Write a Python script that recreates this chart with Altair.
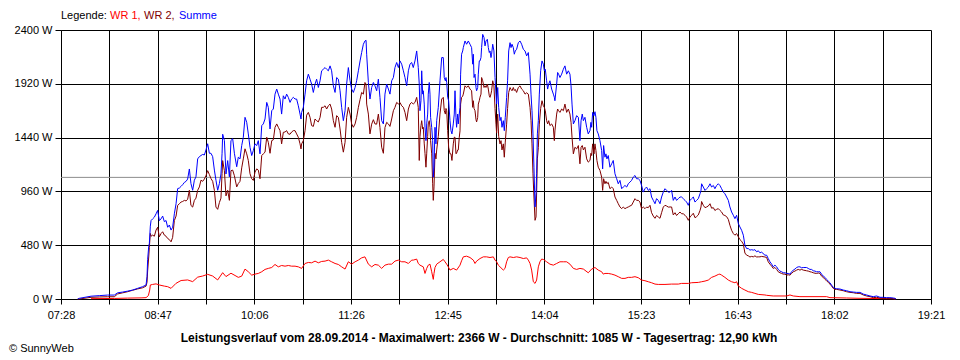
import json
import altair as alt
import pandas as pd

# ---- data (time = minutes after midnight, power in W) ----
t_main = [461.7, 463.0, 472.6, 479.4, 486.2, 491.7, 494.4, 498.5, 502.6, 506.7, 510.8, 514.9, 517.7, 518.5, 519.0, 519.9,
          520.4, 521.2, 521.8, 523.1, 524.5, 525.9, 527.2, 528.6, 530.0, 531.3, 532.7, 534.1, 535.4, 536.8, 538.2, 539.5,
          540.9, 542.3, 543.6, 545.0, 546.4, 547.7, 549.1, 550.5, 551.8, 553.2, 554.5, 555.9, 557.3, 558.6, 560.0, 561.4,
          562.7, 564.1, 565.5, 566.8, 568.2, 569.6, 570.9, 572.3, 573.7, 575.0, 576.4, 577.8, 579.1, 580.0, 580.5, 581.9,
          583.2, 584.6, 586.0, 587.3, 588.7, 590.1,
          592.0, 593.3, 594.7, 596.1, 597.4, 598.8, 600.2, 601.5, 602.9, 604.3, 605.6, 607.0, 608.4, 609.7, 611.1, 612.5,
          613.8, 615.2, 616.6, 617.9, 619.3, 620.7, 622.0, 623.4, 624.8, 626.1, 627.5, 628.8, 630.2, 631.6, 632.9, 634.3,
          635.7, 637.0, 638.4, 639.8, 641.1, 642.5, 643.9, 644.7, 645.2, 646.6, 648.0, 649.3, 650.7, 652.1, 653.4, 654.8,
          656.2, 657.5, 658.9, 660.3, 661.6, 663.0, 664.4, 665.7, 667.1, 668.5, 669.8, 671.2, 672.6, 673.9, 675.3, 676.7,
          678.0, 679.4, 680.8, 682.1, 683.5, 684.9, 686.2, 687.6, 689.0, 690.3, 691.7, 693.1, 694.4, 695.8, 697.1, 698.0,
          698.5, 699.9, 701.2, 702.6, 704.0, 705.3, 706.7, 708.1, 709.4, 710.8, 712.2, 713.5, 714.9, 716.3, 717.6, 719.0,
          720.4, 721.7, 723.1, 724.5, 725.8, 727.2, 728.6, 729.9, 731.3, 732.7, 734.0, 735.4,
          736.7, 738.1, 739.5, 740.8, 741.6, 742.2, 743.0, 743.6, 744.4, 744.9, 745.7, 746.3, 747.1, 747.7, 748.5, 749.0,
          749.8, 750.4, 750.9, 751.8, 752.6, 753.1, 753.7, 754.5, 755.3, 755.9, 757.2, 758.6, 760.0, 761.3, 762.1, 763.0,
          763.5, 764.1, 764.9, 765.7, 766.8, 767.6, 768.4, 769.5, 770.3, 770.9, 771.7, 772.2, 773.1, 773.6, 774.4, 775.0,
          775.5, 776.3, 777.2, 777.7, 779.1, 780.4, 781.8, 783.2, 784.5, 785.4, 785.9, 786.5, 787.3, 788.1, 788.6, 789.5,
          790.0, 790.8, 791.4, 792.2, 792.7, 793.6, 794.7, 795.5, 796.3, 797.4, 798.2, 799.0, 799.6, 800.4, 800.9, 801.8,
          802.8, 803.7, 804.5, 805.0, 805.9, 806.7, 807.8, 808.6, 809.4, 810.5, 811.3, 812.1, 813.2, 814.0, 814.9, 816.0,
          816.8, 817.6, 818.7, 819.5, 820.3, 821.4, 822.8, 824.2, 825.5, 826.9, 828.3, 829.6, 831.0, 832.4, 833.2, 834.0,
          834.8, 835.6, 836.5, 837.3, 837.8, 838.4, 839.2, 840.0, 841.1, 842.2, 843.3, 844.1, 844.9, 846.0, 846.8, 847.7,
          848.7, 850.1, 851.5, 852.3, 852.8, 854.2, 855.0, 855.8, 856.9, 858.3, 859.7, 861.0, 862.4, 863.8, 865.1, 866.0,
          866.8, 867.9, 869.2, 870.6, 872.0, 873.3, 874.2, 875.2, 876.1, 877.4,
          878.8, 880.1, 881.5, 882.3, 882.9, 883.7, 884.8, 885.6, 886.4, 887.2, 888.3, 889.7, 891.1, 891.9, 892.7, 893.8,
          894.6, 895.4, 896.5, 897.9, 899.3, 900.6, 902.0, 903.4, 904.7, 906.1, 907.5, 908.8, 910.2, 911.6, 912.9, 914.3,
          915.6, 917.0, 918.4, 919.7, 921.1, 922.5, 923.8, 925.2, 926.6, 927.9, 929.3, 930.7, 932.0, 933.4, 934.8, 936.1,
          937.5, 938.9, 940.2, 941.6, 943.0, 944.3, 945.7, 947.1, 948.4, 949.8, 951.2, 952.5, 953.9, 955.3, 956.6, 958.0,
          959.4, 960.7, 962.1, 963.5, 964.8, 966.2, 967.6, 968.9, 970.3, 971.7, 972.5, 973.0, 974.4, 975.8, 977.1, 978.5,
          979.9, 981.2, 982.6, 983.9, 985.3, 986.7, 988.0, 989.4, 990.8, 992.1, 993.5, 994.9, 996.2, 997.6, 999.0, 1000.3,
          1001.7, 1003.1, 1004.4, 1005.8, 1007.2, 1008.5, 1009.9, 1011.3, 1012.6, 1014.0, 1015.4, 1016.7, 1018.1, 1019.5,
          1020.8, 1022.2,
          1024.9, 1026.3, 1027.6, 1029.0, 1030.4, 1031.7, 1033.1, 1034.5, 1035.8, 1037.2, 1038.6, 1039.9, 1041.3, 1042.7,
          1044.0, 1045.4, 1046.8, 1048.1, 1049.5, 1050.9, 1052.2, 1053.6, 1055.0, 1056.3, 1059.0, 1060.4, 1061.8, 1063.1,
          1064.5, 1065.9, 1067.2, 1068.6, 1070.0, 1071.3, 1072.7, 1074.1, 1075.4, 1076.8, 1078.2, 1079.5, 1080.9, 1082.3,
          1083.6, 1086.4, 1089.1, 1091.8, 1094.6, 1097.3, 1100.0, 1102.8, 1105.5, 1108.2, 1111.0, 1113.7, 1116.4, 1119.2,
          1121.9, 1124.6, 1127.3, 1130.1, 1131.4, 1132.3]

summe = [0, 6, 25, 30, 35, 35, 55, 62, 70, 80, 95, 110, 125, 200, 350, 470,
         495, 650, 700, 715, 730, 760, 790, 700, 715, 740, 690, 700, 640, 660, 615, 640,
         760, 850, 985, 990, 1005, 1020, 1040, 1050, 1070, 1160, 1030, 970, 1060, 1090, 1250, 1270,
         1280, 1290, 1285, 1330, 1385, 1300, 1300, 1270, 1150, 1060, 970, 1030, 1115, 1300, 1470, 1415,
         1115, 1235, 1090, 1415, 1430, 1300,
         1180, 1265, 1250, 1369, 1443, 1621, 1576, 1473, 1354, 1280, 1324, 1384, 1369, 1413, 1295, 1547,
         1562, 1606, 1754, 1710, 1517, 1680, 1695, 1828, 1873, 1828, 1784, 1650, 1813, 1784, 1828, 1799,
         1754, 1784, 1799, 1784, 1784, 1724, 1650, 1606, 1665, 1710, 1828, 1947, 2006, 1961, 1917, 1843,
         1917, 1961, 1887, 1947, 2036, 2050, 2065, 2050, 2036, 2080, 2036, 1902, 1843, 1976, 1961, 1858,
         1710, 1591, 1680, 1917, 2065, 1947, 1873, 1843, 1887, 1947, 2036, 2124, 2199, 2273, 2302, 2308,
         2184, 1932, 1784, 1887, 1932, 1902, 1858, 1961, 1799, 1591, 1562, 1828, 1917, 1873, 1828, 1947,
         1976, 2065, 2110, 2065, 2124, 2095, 2036, 1976, 1902, 2036, 2095, 2110,
         2065, 2124, 2213, 2065, 1917, 1680, 1769, 2036, 1828, 1858, 1739, 1532, 1413, 1562, 1650, 1828,
         1932, 1828, 1621, 1532, 1413, 1087, 1176, 1532, 1384, 1591, 1710, 1947, 2154, 2154, 1976, 1947,
         1976, 1932, 1799, 1769, 1591, 1502, 1473, 1562, 1650, 1858, 1621, 1532, 1650, 1562, 1650, 1710,
         2006, 2184, 2213, 2243, 2302, 2273, 2302, 2273, 2243, 2095, 2184, 1976, 2006, 1887, 1858, 1887,
         2006, 2124, 2124, 2154, 2243, 2361, 2332, 2258, 2302, 2317, 2243, 2199, 2213, 2154, 2184, 2273,
         2213, 1976, 1828, 1739, 1887, 1710, 1591, 1621, 1532, 1591, 1502, 1621, 1799, 1947, 2213, 2287,
         2243, 2273, 2243, 2184, 2213, 2228, 2287, 2302, 2273, 2228, 2213, 2169, 2199, 2006, 1828, 1680,
         1473, 1176, 821, 939, 1117, 1473, 1591, 1828, 2036, 2124, 2095, 2036, 2050, 1947, 1873, 1917,
         1947, 1873, 1828, 1800, 1769, 1917, 2021, 2006, 1976, 2006, 2050, 2080, 2006, 2036, 2006, 1902,
         1739, 1562, 1591, 1636, 1621, 1413, 1591, 1650, 1591, 1621,
         1532, 1473, 1502, 1576, 1532, 1665, 1636, 1671, 1621, 1502, 1473, 1413, 1324, 1161, 1369, 1265,
         1295, 1250, 1280, 1176, 1206, 1236, 1117, 1073, 1028, 1058, 984, 999, 1013, 999, 1028, 1043,
         1058, 1087, 1102, 1073, 1073, 1058, 1013, 954, 984, 999, 969, 984, 910, 880, 850, 895,
         880, 850, 910, 954, 984, 969, 954, 954, 969, 880, 910, 880, 895, 910, 910, 895,
         880, 865, 836, 880, 895, 910, 865, 880, 895, 939, 969, 1028, 999, 969, 984, 999,
         1028, 999, 1013, 984, 1013, 1028, 1013, 984, 954, 939, 910, 880, 821, 776, 747, 717,
         747, 673, 643, 613, 569, 480, 450, 450, 436, 440, 436, 440, 421, 430,
         412, 418,
         391, 391, 361, 332, 311, 287, 302, 287, 264, 249, 243, 234, 234, 228,
         228, 222, 243, 258, 267, 281, 287, 287, 278, 281, 281, 273, 264, 264,
         252, 249, 243, 243, 243, 222, 204, 193, 175, 160, 145, 124, 104, 95,
         92, 89, 80, 74, 65, 62, 59, 59, 44, 36, 27, 21, 27, 15,
         15, 12, 12, 9, 6, 0]

wr2 = [0, 0, 15, 18, 20, 20, 45, 55, 65, 78, 90, 100, 115, 150, 250, 375,
       460, 585, 560, 570, 560, 615, 640, 555, 584, 600, 570, 560, 540, 530, 510, 550,
       700, 740, 835, 850, 865, 870, 880, 875, 890, 970, 835, 820, 880, 900, 970, 1000,
       1060, 1050, 1070, 1100, 1145, 1110, 1075, 1050, 970, 820, 800, 860, 900, 1120, 1235, 1145,
       920, 970, 880, 1145, 1150, 1100,
       1000, 1030, 1050, 1170, 1250, 1340, 1295, 1236, 1117, 1073, 1058, 1132, 1161, 1150, 1073, 1280,
       1295, 1310, 1443, 1398, 1300, 1413, 1420, 1532, 1562, 1532, 1502, 1384, 1487, 1490, 1502, 1473,
       1470, 1490, 1502, 1502, 1473, 1443, 1384, 1339, 1384, 1413, 1502, 1640, 1665, 1621, 1547, 1540,
       1606, 1591, 1580, 1620, 1710, 1710, 1724, 1695, 1724, 1739, 1695, 1591, 1532, 1636, 1621, 1517,
       1398, 1310, 1398, 1621, 1710, 1650, 1562, 1532, 1562, 1621, 1710, 1780, 1843, 1828, 1932, 1917,
       1739, 1650, 1473, 1560, 1600, 1562, 1560, 1650, 1530, 1354, 1300, 1530, 1576, 1562, 1540, 1606,
       1680, 1710, 1754, 1740, 1754, 1724, 1710, 1665, 1591, 1695, 1739, 1754,
       1739, 1754, 1799, 1710, 1236, 1450, 1547, 1591, 1517, 1532, 1384, 1300, 1176, 1295, 1450, 1562,
       1591, 1532, 1413, 1295, 1028, 880, 1000, 1300, 1250, 1330, 1450, 1650, 1784, 1799, 1680, 1650,
       1700, 1680, 1502, 1354, 1295, 1295, 1236, 1384, 1443, 1443, 1295, 1300, 1330, 1330, 1443, 1500,
       1739, 1799, 1810, 1828, 1902, 1887, 1902, 1873, 1858, 1710, 1769, 1700, 1680, 1600, 1580, 1620,
       1739, 1769, 1800, 1828, 1976, 1947, 1887, 1902, 1887, 1917, 1873, 1813, 1799, 1830, 1858, 1947,
       1902, 1700, 1560, 1480, 1650, 1450, 1384, 1413, 1330, 1384, 1265, 1400, 1560, 1700, 1843, 1887,
       1870, 1858, 1887, 1860, 1870, 1843, 1887, 1902, 1873, 1858, 1828, 1840, 1828, 1710, 1591, 1384,
       1117, 910, 702, 732, 950, 1250, 1350, 1560, 1700, 1769, 1724, 1710, 1680, 1591, 1562, 1591,
       1547, 1562, 1532, 1413, 1500, 1650, 1695, 1680, 1665, 1695, 1680, 1739, 1665, 1695, 1650, 1576,
       1443, 1295, 1354, 1339, 1369, 1206, 1354, 1369, 1330, 1354,
       1250, 1221, 1236, 1300, 1280, 1384, 1295, 1384, 1324, 1236, 1176, 1147, 1087, 969, 1073, 1028,
       1050, 1030, 1040, 984, 999, 984, 910, 880, 850, 821, 806, 821, 806, 815, 821, 830,
       836, 865, 895, 880, 880, 865, 806, 821, 806, 820, 815, 836, 770, 740, 720, 745,
       732, 720, 770, 820, 836, 830, 820, 821, 821, 750, 770, 745, 761, 776, 761, 760,
       747, 732, 702, 732, 747, 765, 725, 735, 750, 790, 821, 870, 836, 815, 821, 830,
       850, 810, 815, 790, 800, 806, 791, 776, 750, 745, 735, 710, 658, 613, 584, 569,
       584, 555, 530, 515, 490, 410, 391, 385, 375, 380, 376, 385, 375, 376,
       376, 380,
       375, 370, 332, 311, 293, 273, 281, 264, 243, 234, 228, 222, 222, 213,
       216, 213, 228, 243, 249, 258, 264, 258, 264, 258, 252, 249, 243, 240,
       234, 230, 228, 232, 228, 204, 193, 175, 163, 148, 133, 116, 95, 86,
       86, 80, 74, 65, 59, 56, 50, 50, 36, 27, 21, 12, 15, 9,
       6, 6, 6, 3, 3, 0]

t_wr1 = [472.6, 491.7, 502.6, 513.6, 517.7, 519.6, 520.7, 521.2, 523.1, 525.9, 528.6, 532.7, 535.4, 538.2, 542.3,
         546.4, 551.8, 555.9, 560.0, 564.1, 568.2, 572.3, 576.4, 580.5, 583.2, 587.3, 591.4,
         593.3, 596.1, 598.8, 601.5, 604.3, 607.0, 609.7, 612.5, 615.2, 617.9, 620.7, 623.4, 626.1, 628.8, 631.6,
         634.3, 637.0, 639.8, 642.5, 645.2, 648.0, 650.7, 653.4, 656.2, 658.9, 661.6, 664.4, 667.1, 669.8, 672.6,
         675.3, 678.0, 680.8, 683.5, 686.2, 689.0, 691.7, 694.4, 697.1, 699.9, 702.6, 705.3, 708.1, 710.8, 713.5,
         716.3, 719.0, 721.7, 724.5, 727.2, 729.9, 732.7, 735.4,
         736.7, 739.5, 740.8, 742.2, 744.9, 746.3, 747.7, 749.0, 750.4, 751.8, 753.1, 753.7, 754.5, 755.9, 758.6,
         761.3, 762.7, 764.1, 765.4, 766.8, 769.5, 772.2, 775.0, 776.3, 777.7, 780.4, 783.2, 785.9, 787.3, 788.6,
         791.4, 794.1, 796.8, 799.6, 802.3, 803.7, 805.0, 806.4, 807.8, 810.5, 811.9, 813.2, 814.6, 816.0, 818.7,
         821.4, 824.2, 826.9, 829.6, 831.0, 832.4, 833.7, 835.1, 836.5, 837.8, 839.2, 840.5, 841.9, 843.3, 846.0,
         848.7, 851.5, 854.2, 856.9, 859.7, 862.4, 865.1, 867.9, 870.6, 873.3, 876.1,
         880.1, 882.9, 885.6, 888.3, 891.1, 892.4, 893.8, 896.5, 899.3, 902.0, 904.7, 907.5, 910.2, 912.9, 915.6,
         918.4, 921.1, 923.8, 926.6, 929.3, 932.0, 934.8, 937.5, 943.0, 948.4, 953.9, 956.6, 962.1, 964.8, 970.3,
         973.0, 975.8, 978.5, 981.2, 983.9, 986.7, 988.0, 989.4, 992.1, 994.9, 997.6, 1000.3, 1001.7, 1003.1, 1005.8,
         1008.5, 1011.3, 1014.0, 1016.7, 1019.5, 1024.9,
         1026.3, 1031.7, 1042.7, 1045.4, 1048.1, 1053.6, 1075.4, 1078.2, 1091.8, 1102.8, 1124.6, 1130.1, 1131.4]

wr1 = [3, 5, 8, 10, 12, 30, 80, 125, 130, 135, 125, 115, 110, 95, 140,
       165, 170, 155, 195, 205, 220, 205, 170, 235, 200, 230, 205,
       193, 204, 267, 243, 213, 222, 228, 243, 264, 273, 281, 308, 287, 299, 293,
       299, 293, 293, 287, 273, 317, 326, 323, 338, 323, 335, 338, 347, 332, 317,
       308, 287, 267, 332, 311, 332, 347, 367, 376, 311, 287, 308, 302, 273, 302,
       311, 311, 338, 347, 332, 332, 317, 347,
       347, 356, 317, 302, 287, 228, 273, 302, 311, 243, 175, 228, 281, 311, 332,
       353, 332, 311, 287, 258, 273, 258, 302, 341, 376, 382, 370, 347, 317, 338,
       361, 376, 376, 370, 376, 347, 332, 302, 287, 258, 273, 332, 370, 376, 370,
       376, 370, 361, 367, 347, 317, 258, 154, 139, 169, 287, 332, 356, 353, 332,
       311, 302, 317, 332, 332, 332, 311, 273, 264, 273, 267,
       234, 267, 281, 258, 243, 222, 228, 228, 222, 213, 199, 184, 184, 193, 193,
       199, 190, 169, 163, 154, 145, 133, 130, 130, 133, 133, 139, 139, 145, 148,
       154, 160, 169, 193, 204, 219, 222, 213, 193, 169, 154, 145, 154, 116, 95,
       80, 65, 59, 50, 41, 36,
       33, 27, 27, 36, 27, 21, 21, 12, 9, 6, 3, 3, 0]

tick_labels = ["07:28", "08:47", "10:06", "11:26", "12:45", "14:04", "15:23", "16:43", "18:02", "19:21"]
y_ticks = [0, 480, 960, 1440, 1920, 2400]
avg_w = 1085
legend_parts = ["Legende:", "WR 1,", "WR 2,", "Summe"]
title_text = ("Leistungsverlauf vom 28.09.2014 - Maximalwert: 2366 W - Durchschnitt: 1085 W - "
              "Tagesertrag: 12,90 kWh")
copyright_text = "\u00a9 SunnyWeb"

# ---- colours / styles ----
C_WR1, C_WR2, C_SUM = "#ff0000", "#800000", "#0000ff"
FONT = "Liberation Sans"


def to_min(s):
    h, m = s.split(":")
    return int(h) * 60 + int(m)


t0, t1 = to_min(tick_labels[0]), to_min(tick_labels[-1])
n_int = 2 * (len(tick_labels) - 1)
step = (t1 - t0) / n_int
grid_vals = [t0 + k * step for k in range(n_int + 1)]
label_expr = (f"(round((datum.value-{t0})/{step}) % 2 == 0) ? "
              f"{json.dumps(tick_labels)}[round((datum.value-{t0})/{step})/2] : ''")

x_enc = alt.X("t:Q",
              scale=alt.Scale(domain=[t0, t1], nice=False, zero=False),
              axis=alt.Axis(values=grid_vals, labelExpr=label_expr, title=None,
                            grid=True, gridColor="black", gridOpacity=1, gridWidth=1,
                            tickColor="black", tickSize=5, domainColor="black",
                            labelFont=FONT, labelFontSize=11, labelColor="black",
                            labelPadding=5, labelOverlap=False, labelFlush=False, labelBound=False))
y_enc = alt.Y("w:Q",
              scale=alt.Scale(domain=[0, 2400], nice=False, zero=True),
              axis=alt.Axis(values=y_ticks, labelExpr="datum.value + ' W'", title=None,
                            grid=True, gridColor="black", gridOpacity=1, gridWidth=1,
                            tickColor="black", tickSize=6, domainColor="black",
                            labelFont=FONT, labelFontSize=11, labelColor="black",
                            labelPadding=3, labelOverlap=False, labelFlush=False, labelBound=False))

df_wr1 = pd.DataFrame({"t": t_wr1, "w": wr1})
df_wr2 = pd.DataFrame({"t": t_main, "w": wr2})
df_sum = pd.DataFrame({"t": t_main, "w": summe})
df_avg = pd.DataFrame({"w": [avg_w]})
one = pd.DataFrame({"a": [0]})

avg_rule = alt.Chart(df_avg).mark_rule(color="#8c8c8c", strokeWidth=1).encode(y=y_enc)
l_wr1 = alt.Chart(df_wr1).mark_line(color=C_WR1, strokeWidth=1).encode(x=x_enc, y=y_enc)
l_wr2 = alt.Chart(df_wr2).mark_line(color=C_WR2, strokeWidth=1).encode(x=x_enc, y=y_enc)
l_sum = alt.Chart(df_sum).mark_line(color=C_SUM, strokeWidth=1).encode(x=x_enc, y=y_enc)

legend_colors = ["black", C_WR1, C_WR2, C_SUM]
legend_x = [0, 49, 83, 118]
legend_layers = [
    alt.Chart(one).mark_text(text=txt, color=col, font=FONT, fontSize=11, align="left", baseline="middle")
    .encode(x=alt.value(px), y=alt.value(-14))
    for txt, col, px in zip(legend_parts, legend_colors, legend_x)
]
title_mark = alt.Chart(one).mark_text(text=title_text, font=FONT, fontSize=12, fontWeight="bold",
                                      color="black", align="center", baseline="middle"
                                      ).encode(x=alt.value(418), y=alt.value(308))
copy_mark = alt.Chart(one).mark_text(text=copyright_text, font=FONT, fontSize=11, color="black",
                                     align="left", baseline="middle"
                                     ).encode(x=alt.value(-52), y=alt.value(319))

chart = alt.layer(avg_rule, l_wr1, l_wr2, l_sum, *legend_layers, title_mark, copy_mark).properties(
    width=870, height=269,
    autosize=alt.AutoSizeParams(type="none"),
    padding={"left": 53, "top": 22, "right": 21, "bottom": 58},
    background="white",
).configure_view(stroke=None)

chart.save("out.html", embed_options={"renderer": "svg", "actions": False})
